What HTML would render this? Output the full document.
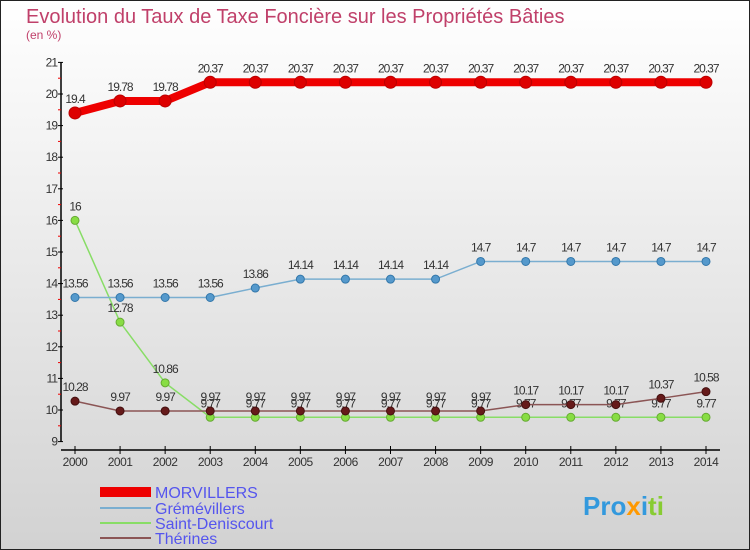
<!DOCTYPE html>
<html><head><meta charset="utf-8"><style>
body{margin:0}
svg{display:block;font-family:"Liberation Sans",sans-serif}
</style></head><body>
<svg width="750" height="550" viewBox="0 0 750 550">
<defs><linearGradient id="bg" x1="0" y1="0" x2="0" y2="1"><stop offset="0" stop-color="#ffffff"/><stop offset="1" stop-color="#d2d2d2"/></linearGradient></defs>
<rect x="0.5" y="0.5" width="749" height="549" fill="url(#bg)" stroke="#222"/>
<text x="26" y="23" font-size="20" fill="#c0406a">Evolution du Taux de Taxe Foncière sur les Propriétés Bâties</text>
<text x="26" y="39" font-size="12" fill="#c0406a">(en %)</text>
<g id="axes"></g>
<g id="series"></g>
<g>
<rect x="100" y="487" width="51" height="10" fill="#ee0000"/>
<text x="155" y="498" font-size="16" fill="#5555ee">MORVILLERS</text>
<line x1="100" x2="151" y1="508" y2="508" stroke="#7aaed0" stroke-width="2"/>
<text x="155" y="514" font-size="16" fill="#5555ee">Grémévillers</text>
<line x1="100" x2="151" y1="523" y2="523" stroke="#88dd66" stroke-width="2"/>
<text x="155" y="529" font-size="16" fill="#5555ee">Saint-Deniscourt</text>
<line x1="100" x2="151" y1="538" y2="538" stroke="#8b5555" stroke-width="2"/>
<text x="155" y="544" font-size="16" fill="#5555ee">Thérines</text>
</g>
<g font-size="26" font-weight="bold">
<text x="583" y="515"><tspan fill="#3399dd">Pro</tspan><tspan fill="#ff9900">x</tspan><tspan fill="#3399dd">i</tspan><tspan fill="#88cc33">ti</tspan></text>
</g>
</svg>
<script>
const years=[2000,2001,2002,2003,2004,2005,2006,2007,2008,2009,2010,2011,2012,2013,2014];
const morvillers=[19.4,19.78,19.78,20.37,20.37,20.37,20.37,20.37,20.37,20.37,20.37,20.37,20.37,20.37,20.37];
const gremevillers=[13.56,13.56,13.56,13.56,13.86,14.14,14.14,14.14,14.14,14.7,14.7,14.7,14.7,14.7,14.7];
const saintDeniscourt=[16,12.78,10.86,9.77,9.77,9.77,9.77,9.77,9.77,9.77,9.77,9.77,9.77,9.77,9.77];
const therines=[10.28,9.97,9.97,9.97,9.97,9.97,9.97,9.97,9.97,9.97,10.17,10.17,10.17,10.37,10.58];
const yTicks=[9,10,11,12,13,14,15,16,17,18,19,20,21];
const NS='http://www.w3.org/2000/svg';
const x=i=>75+i*(706-75)/(years.length-1);
const y=v=>441.6-(v-9)*31.6;
function mk(tag,attrs,parent){const e=document.createElementNS(NS,tag);for(const k in attrs)e.setAttribute(k,attrs[k]);parent.appendChild(e);return e;}
const axes=document.getElementById('axes');
let e=mk('line',{x1:61,x2:61,y1:y(21),y2:y(9),stroke:'#000','stroke-width':1.5},axes);


e=mk('line',{x1:61,x2:720,y1:450,y2:450,stroke:'#000','stroke-width':1.5},axes);


yTicks.forEach(t=>{
 mk('line',{x1:58,x2:63,y1:y(t),y2:y(t),stroke:'#000'},axes);
 if(t<21)mk('line',{x1:58,x2:61,y1:y(t+0.5),y2:y(t+0.5),stroke:'#e00'},axes);
 const tx=mk('text',{x:57,y:y(t)+4,'font-size':12,'text-anchor':'end',fill:'#333','letter-spacing':'-1'},axes);
 tx.textContent=t;
 
 
});
years.forEach((yr,i)=>{
 mk('line',{x1:x(i),x2:x(i),y1:446,y2:454,stroke:'#000'},axes);
 const tx=mk('text',{x:x(i),y:466,'font-size':12,'text-anchor':'middle',fill:'#333','letter-spacing':'-0.5'},axes);
 tx.textContent=yr;
 
 
});
const sg=document.getElementById('series');
function draw(vals,name,color,w,r,dot,dotStroke){
 const g=mk('g',{},sg);
 
 
 mk('polyline',{points:vals.map((v,i)=>x(i)+','+y(v)).join(' '),fill:'none',stroke:color,'stroke-width':w},g);
 vals.forEach((v,i)=>{
  const c=mk('circle',{cx:x(i),cy:y(v),r:r,fill:dot,stroke:dotStroke,'stroke-width':1},g);
  
  
  const t=mk('text',{x:x(i),y:y(v)-10,'font-size':12,'text-anchor':'middle',fill:'#333','letter-spacing':'-1'},g);
  t.textContent=String(v);
  
  
 });
}
draw(saintDeniscourt,'saint-deniscourt','#88dd66',1.5,4,'#88dd44','#66aa33');
draw(therines,'therines','#8b5555',1.5,4,'#661a1a','#441010');
draw(gremevillers,'gremevillers','#7aaed0',1.5,4,'#5599cc','#3377aa');
draw(morvillers,'morvillers','#ee0000',8,6,'#dd0000','#bb0000');
</script>
</body></html>
